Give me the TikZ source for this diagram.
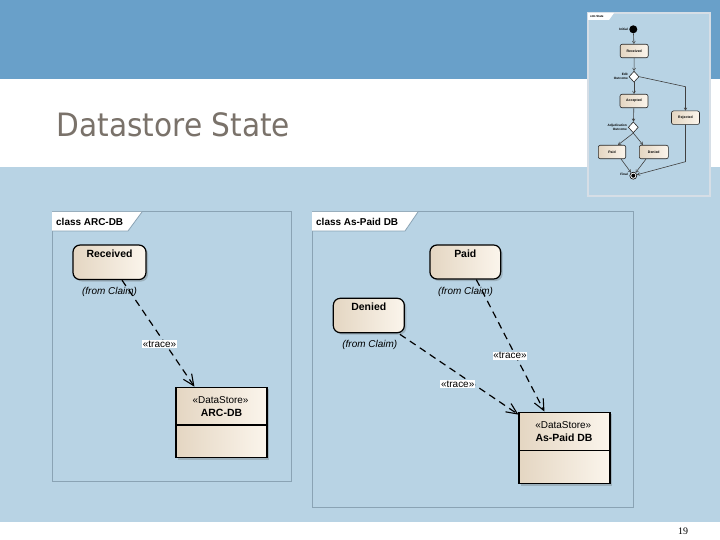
\documentclass[tikz,border=0pt]{standalone}
\usepackage{fontspec}
\setmainfont{Liberation Sans}
\newfontfamily\titlefont[FakeStretch=0.92]{DejaVu Sans}
\newfontfamily\numfont{Liberation Serif}
\usetikzlibrary{arrows.meta,calc,shadows,shapes.geometric}
\definecolor{topband}{HTML}{69A0C9}
\definecolor{lightbg}{HTML}{B8D3E4}
\definecolor{titlegray}{HTML}{7A726A}
\definecolor{panelline}{HTML}{8AA3B4}
\definecolor{nodeL}{HTML}{E4D6C2}
\definecolor{nodeR}{HTML}{FBF5EC}
\definecolor{thumbframe}{HTML}{D6DEE6}
\tikzset{
  panel/.style={draw=panelline, line width=1bp},
  tabfill/.style={fill=white},
  tabline/.style={draw=panelline, line width=0.8bp},
  tabtext/.style={inner sep=0, anchor=west, font=\bfseries\fontsize{10}{12}\selectfont},
  statebox/.style={draw=black, line width=1.2bp, rounded corners=7bp, left color=nodeL, right color=nodeR,
    inner sep=0, drop shadow={shadow xshift=2bp, shadow yshift=-2bp, opacity=.25, fill=black!70}},
  classbox/.style={draw=black, line width=1.1bp, left color=nodeL, right color=nodeR, inner sep=0,
    drop shadow={shadow xshift=2bp, shadow yshift=-2bp, opacity=.25, fill=black!70}},
  nametext/.style={inner sep=0, font=\bfseries\fontsize{10.5}{12}\selectfont},
  fromtext/.style={inner sep=0, font=\itshape\fontsize{10}{12}\selectfont},
  stereo/.style={inner sep=0, font=\fontsize{10}{12}\selectfont},
  tracelbl/.style={fill=white, inner sep=0.6bp, font=\fontsize{10}{12}\selectfont},
  trace/.style={draw=black, line width=1.2bp, dash pattern=on 7bp off 5bp,
    -{Straight Barb[length=11bp,width=10bp,line width=1.1bp]}},
  tnode/.style={draw=black!85, line width=0.6bp, rounded corners=2bp, left color=nodeL, right color=nodeR,
    minimum width=28bp, minimum height=13.5bp, inner sep=0, font=\bfseries\fontsize{3.5}{4}\selectfont},
  tlbl/.style={inner sep=0, align=right, anchor=east, font=\bfseries\fontsize{3.2}{3.8}\selectfont},
  tedge/.style={draw=black!75, line width=0.6bp, -{Straight Barb[length=2.5bp,width=3bp,line width=0.5bp]}},
  tdiam/.style={diamond, draw=black!85, line width=0.6bp, fill=white, inner sep=0, minimum width=10bp, minimum height=11bp}
}
\begin{document}
\begin{tikzpicture}[x=1bp,y=-1bp]
\useasboundingbox (0,0) rectangle (720,540);
% background bands
\fill[topband] (0,0) rectangle (720,79);
\fill[white] (0,79) rectangle (720,167);
\fill[lightbg] (0,167) rectangle (720,522);
\fill[white] (0,522) rectangle (720,540);

% title
\node[anchor=base west, inner sep=0, text=titlegray, font=\titlefont\fontsize{32.3}{36}\selectfont] (title) at (56.5,136.7) {Datastore State};

% page number
\node[inner sep=0, font=\numfont\fontsize{10}{12}\selectfont] (pagenum) at (683,531) {19};

% ===== left panel =====
\draw[panel] (52,212) rectangle (291,481);
\fill[tabfill] (52,212) -- (142,212) -- (128,231) -- (52,231) -- cycle;
\draw[tabline] (142,212) -- (128,231) -- (52,231);
\node[tabtext] (tabL) at (56,222) {class ARC-DB};

\node[statebox, minimum width=73bp, minimum height=34.5bp] (rec) at (109.5,262.3) {};
\node[nametext] (recT) at (109.5,253.5) {Received};
\node[fromtext] (recF) at (109.5,292) {(from Claim)};

\node[classbox, minimum width=91bp, minimum height=70.5bp] (arc) at (221.5,422.5) {};
\draw[line width=1.1bp] (arc.west |- 0,425) -- (arc.east |- 0,425);
\node[stereo] (arcS) at (220.5,400.3) {«DataStore»};
\node[nametext] (arcT) at (221.5,413) {ARC-DB};

\draw[trace] (rec.-55) -- ($(arc.north west)+(19,0)$);
\node[tracelbl] (tr1) at (159.5,344) {«trace»};

% ===== right panel =====
\draw[panel] (312,212) rectangle (633,507);
\fill[tabfill] (312,212) -- (418,212) -- (405,231) -- (312,231) -- cycle;
\draw[tabline] (418,212) -- (405,231) -- (312,231);
\node[tabtext] (tabR) at (316,222) {class As-Paid DB};

\node[statebox, minimum width=70.7bp, minimum height=34bp] (paid) at (465.3,262) {};
\node[nametext] (paidT) at (465.3,254) {Paid};
\node[fromtext] (paidF) at (465.5,291.5) {(from Claim)};

\node[statebox, minimum width=71bp, minimum height=34.4bp] (den) at (368.8,315.5) {};
\node[nametext] (denT) at (368.8,307) {Denied};
\node[fromtext] (denF) at (369.8,345) {(from Claim)};

\node[classbox, minimum width=91bp, minimum height=71.7bp] (apd) at (564.5,448) {};
\draw[line width=1.1bp] (apd.west |- 0,450.7) -- (apd.east |- 0,450.7);
\node[stereo] (apdS) at (563.3,425) {«DataStore»};
\node[nametext] (apdT) at (564,438) {As-Paid DB};

\draw[trace] ($(paid.south)+(11,0)$) -- ($(apd.north west)+(26,0)$);
\draw[trace] ($(den.south east)+(-5,1)$) -- ($(apd.north west)+(0,3)$);
\node[tracelbl] (tr2) at (510,355.7) {«trace»};
\node[tracelbl] (tr3) at (457.7,384) {«trace»};

% ===== thumbnail =====
\fill[lightbg] (588,13) rectangle (710,196);
\draw[thumbframe, line width=1.5bp] (588,13) rectangle (710,196);
\fill[white] (588,13) -- (614,13) -- (609,20) -- (588,20) -- cycle;
\node[inner sep=0, anchor=west, font=\bfseries\fontsize{3}{3.5}\selectfont] (ttab) at (590,16.5) {stm State};

\node[circle, fill=black, inner sep=0, minimum size=8bp] (ini) at (633.3,29.3) {};
\node[tlbl] (iniL) at (628,29.3) {Initial};
\node[tnode] (trec) at (634.2,51) {Received};
\node[tdiam] (dd1) at (634,76.7) {};
\node[tlbl] (dd1L) at (628,76.7) {Edit\\Outcome};
\node[tnode] (tacc) at (634,101) {Accepted};
\node[tnode] (trej) at (685.5,117.7) {Rejected};
\node[tdiam] (dd2) at (633.3,127.3) {};
\node[tlbl] (dd2L) at (627,127.3) {Adjudication\\Outcome};
\node[tnode, minimum width=27.4bp] (tpaid) at (612,152) {Paid};
\node[tnode, minimum width=29bp] (tden) at (653.8,152) {Denied};
\node[circle, draw=black, line width=0.6bp, fill=white, inner sep=0, minimum size=7bp] (tfin) at (633.3,175.7) {};
\fill[black] (tfin.center) circle (2bp);
\node[tlbl] (finL) at (628,174.5) {Final};

\coordinate (bend1) at (685.5,86.7);
\coordinate (bend2) at (685.5,161.7);
\draw[tedge] (ini) -- (trec);
\draw[tedge] (trec) -- (dd1);
\draw[tedge] (dd1) -- (tacc);
\draw[tedge] (dd1.east) -- (bend1) -- (trej.north);
\draw[tedge] (tacc) -- (dd2);
\draw[tedge] (dd2.south) -- ($(tpaid.north)+(6,0)$);
\draw[tedge] (dd2.south) -- ($(tden.north west)+(4,0)$);
\draw[tedge] ($(tpaid.south)+(9,0)$) -- (tfin);
\draw[tedge] ($(tden.south west)+(7,0)$) -- (tfin);
\draw[tedge] (trej.south) -- (bend2) -- (tfin);
\end{tikzpicture}
\end{document}
